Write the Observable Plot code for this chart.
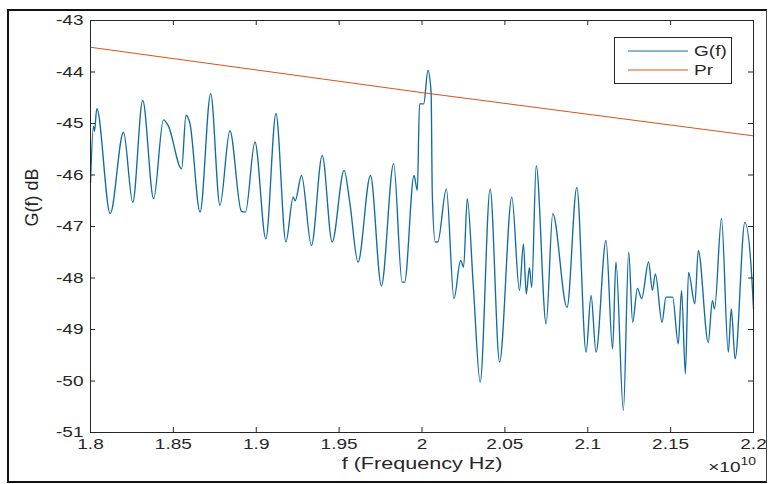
<!DOCTYPE html>
<html><head><meta charset="utf-8">
<script src="https://cdn.jsdelivr.net/npm/d3@7"></script>
<script src="https://cdn.jsdelivr.net/npm/@observablehq/plot@0.6"></script>
<style>
body{margin:0;background:#fff;}
#wrap{position:relative;width:768px;height:484px;font-family:"Liberation Sans",Arial,sans-serif;overflow:hidden;}
#frame{position:absolute;left:7px;top:9px;width:757px;height:470px;border:2px solid #111;border-right:1px solid #444;pointer-events:none;}
#legend{position:absolute;left:614px;top:37px;width:116px;height:45px;border:1px solid #262626;background:#fff;}
</style></head><body>
<div id="wrap"><div id="chart"></div><div id="legend"></div><div id="frame"></div></div>
<script>
// G(f) series (frequency in units of 1e10 Hz, value in dB)
const freq = [1.8000,1.8018,1.8024,1.8038,1.8119,1.8199,1.8255,1.8315,1.8381,1.8440,1.8470,1.8550,1.8576,1.8600,1.8661,1.8725,1.8781,1.8841,1.8910,1.8935,1.8992,1.9058,1.9119,1.9179,1.9223,1.9235,1.9273,1.9333,1.9398,1.9458,1.9530,1.9565,1.9614,1.9689,1.9755,1.9829,1.9880,1.9895,1.9952,1.9972,1.9985,2.0010,2.0036,2.0055,2.0062,2.0080,2.0095,2.0147,2.0193,2.0233,2.0251,2.0273,2.0310,2.0351,2.0411,2.0468,2.0542,2.0588,2.0612,2.0629,2.0648,2.0662,2.0689,2.0749,2.0789,2.0875,2.0934,2.0990,2.1020,2.1050,2.1110,2.1150,2.1170,2.1215,2.1247,2.1271,2.1300,2.1325,2.1367,2.1390,2.1408,2.1448,2.1472,2.1512,2.1546,2.1566,2.1589,2.1608,2.1646,2.1667,2.1727,2.1752,2.1765,2.1807,2.1848,2.1866,2.1889,2.1948,2.1990,2.2000];
const gain = [-46.15,-45.05,-45.15,-44.71,-46.75,-45.17,-46.53,-44.55,-46.46,-44.93,-45.05,-45.88,-44.84,-45.00,-46.72,-44.42,-46.59,-45.14,-46.70,-46.72,-45.36,-47.24,-44.81,-47.30,-46.43,-46.50,-46.01,-47.37,-45.62,-47.30,-45.91,-46.55,-47.69,-46.01,-48.15,-45.78,-48.08,-48.08,-46.01,-46.30,-44.62,-44.62,-43.97,-44.40,-46.36,-47.30,-47.30,-46.27,-48.40,-47.66,-47.79,-46.46,-48.18,-50.02,-46.27,-49.63,-46.43,-48.24,-47.34,-48.31,-47.80,-48.18,-45.82,-48.89,-46.75,-48.57,-46.24,-49.44,-48.34,-49.44,-47.27,-49.38,-47.69,-50.57,-47.50,-48.86,-48.20,-48.40,-47.69,-48.24,-47.92,-48.86,-48.37,-48.37,-49.28,-48.24,-49.86,-47.89,-48.50,-47.47,-49.25,-48.44,-48.60,-46.85,-49.44,-48.60,-49.57,-46.92,-48.00,-48.60];
// Pr series
const prFreq = [1.8, 2.0, 2.2];
const prDb = [-43.52, -44.40, -45.24];
// ticks
const xTicks = [1.8,1.85,1.9,1.95,2.0,2.05,2.1,2.15,2.2];
const xTickLabels = ["1.8","1.85","1.9","1.95","2","2.05","2.1","2.15","2.2"];
const yTicks = [-51,-50,-49,-48,-47,-46,-45,-44,-43];
const yTickLabels = ["-51","-50","-49","-48","-47","-46","-45","-44","-43"];
const seriesNames = ["G(f)","Pr"];
const seriesColors = ["#126ca2","#D95319"];

const gData = freq.map((f,i)=>({f, v: gain[i]}));
const pData = prFreq.map((f,i)=>({f, v: prDb[i]}));

const W=768,H=484,mL=90,mR=15,mT=20,mB=52;
const pw=W-mL-mR, ph=H-mT-mB;
const ink="#262626";
const SX = 1.27; // horizontal text stretch seen in the reference
const chart = Plot.plot({
  width:W,height:H,marginLeft:mL,marginRight:mR,marginTop:mT,marginBottom:mB,
  style:{fontFamily:"'Liberation Sans',Arial,sans-serif",fontSize:"15px",color:ink,background:"transparent"},
  x:{domain:[1.8,2.2]},
  y:{domain:[-51,-43]},
  marks:[
    Plot.line(gData,{x:"f",y:"v",stroke:seriesColors[0],strokeWidth:1.35,curve:"monotone-x"}),
    Plot.line(pData,{x:"f",y:"v",stroke:seriesColors[1],strokeWidth:1}),
    Plot.gridX(xTicks,{stroke:ink,strokeOpacity:1,insetTop:ph-5}),
    Plot.gridX(xTicks,{stroke:ink,strokeOpacity:1,insetBottom:ph-5}),
    Plot.gridY(yTicks,{stroke:ink,strokeOpacity:1,insetRight:pw-5}),
    Plot.gridY(yTicks,{stroke:ink,strokeOpacity:1,insetLeft:pw-5}),
    Plot.frame({stroke:ink}),
    Plot.axisX(xTicks,{tickSize:0,tickPadding:6,label:null,fontSize:15,tickFormat:d=>xTickLabels[xTicks.indexOf(d)]}),
    Plot.axisY(yTicks,{tickSize:0,tickPadding:7,label:null,fontSize:15,tickFormat:d=>yTickLabels[yTicks.indexOf(d)]}),
    Plot.text(["f (Frequency Hz)"],{frameAnchor:"bottom",dy:36,fontSize:17,fill:ink}),
    Plot.text(["G(f) dB"],{frameAnchor:"left",dx:-58,rotate:-90,fontSize:18,fill:ink}),
    Plot.text(["×10"],{frameAnchor:"bottom-right",dx:-13,dy:39,textAnchor:"end",fontSize:15,fill:ink}),
    Plot.text(["10"],{frameAnchor:"bottom-right",dx:-13,dy:32,textAnchor:"start",fontSize:11,fill:ink})
  ]
});
// stretch non-rotated texts horizontally around their anchor
d3.select(chart).selectAll("text").each(function(){
  const t = this.getAttribute("transform") || "";
  if (!t.includes("rotate")) this.setAttribute("transform", (t ? t + " " : "") + `scale(${SX},1)`);
});
document.getElementById("chart").appendChild(chart);

// legend
const lg = d3.select("#legend").append("svg").attr("width",116).attr("height",45)
  .style("font-family","'Liberation Sans',Arial,sans-serif").style("font-size","15px");
seriesNames.forEach((n,i)=>{
  const y = 13 + i*19;
  lg.append("line").attr("x1",13).attr("x2",73).attr("y1",y).attr("y2",y).attr("stroke",seriesColors[i]).attr("stroke-width",1);
  lg.append("text").attr("transform",`translate(79,${y}) scale(${SX},1)`).attr("dy","0.35em").attr("fill",ink).text(n);
});
</script>
</body></html>
